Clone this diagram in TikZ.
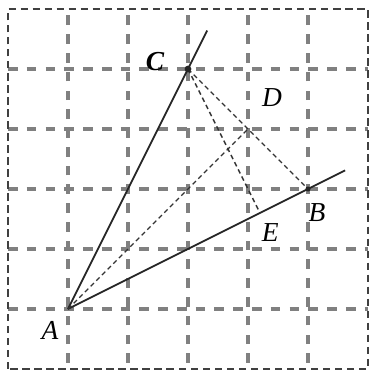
\documentclass[tikz,border=0pt]{standalone}
\usepackage{fontspec}
\setmainfont{Liberation Serif}
\usetikzlibrary{calc}
\begin{document}
\begin{tikzpicture}[x=1cm,y=1cm,
  gridline/.style={draw=black!50, line width=1.9pt, dash pattern=on 4.6pt off 4.3pt},
  border/.style={draw=black!75, line width=0.9pt, dash pattern=on 3.5pt off 2.2pt},
  solidline/.style={draw=black!85, line width=0.85pt},
  dashline/.style={draw=black!80, line width=0.65pt, dash pattern=on 2.2pt off 1.6pt},
  lbl/.style={font=\fontsize{13}{15}\selectfont\itshape, inner sep=0pt},
  dot/.style={circle, fill=black!85, inner sep=0pt, minimum size=3.2pt}]
\useasboundingbox (-0.133,-0.15) rectangle (6.15,6.15);
% grid
\foreach \i in {1,...,5} {
  \path[gridline] (\i,0.1) -- (\i,6);
  \path[gridline] (0,\i) -- (6,\i);
}
\path[border] (0,0) rectangle (6,6);
% points
\coordinate (A) at (1,1);
\coordinate (B) at (5,3);
\coordinate (C) at (3,5);
\coordinate (D) at (4,4);
\coordinate (E) at (4.2,2.6);
\coordinate (Cend) at ($(A)!1.16!(C)$);
\coordinate (Bend) at ($(A)!1.155!(B)$);
% lines
\path[solidline] (A) -- (Cend);
\path[solidline] (A) -- (Bend);
\path[dashline] (C) -- (B);
\path[dashline] (C) -- (E);
\path[dashline] (A) -- (D);
\node[dot] (Cdot) at (C) {};
\node[dot, minimum size=2.4pt] (Bdot) at (B) {};
% labels
\node[lbl, font=\fontsize{13}{15}\selectfont\bfseries\itshape] (lC) at (2.45,5.12) {C};
\node[lbl] (lD) at (4.4,4.53) {D};
\node[lbl] (lE) at (4.37,2.28) {E};
\node[lbl] (lB) at (5.15,2.6) {B};
\node[lbl] (lA) at (0.7,0.65) {A};
\end{tikzpicture}
\end{document}
